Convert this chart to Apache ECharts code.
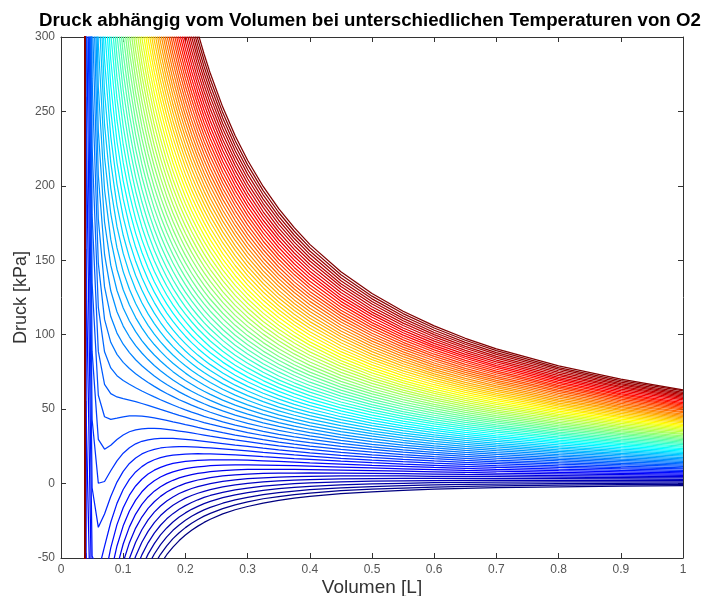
<!DOCTYPE html>
<html>
<head>
<meta charset="utf-8">
<title>Druck abhängig vom Volumen – O2</title>
<script src="https://cdn.jsdelivr.net/npm/echarts@6/dist/echarts.min.js"></script>
<style>
  html, body { margin: 0; padding: 0; background: #fff; }
  #chart { width: 705px; height: 596px; }
</style>
</head>
<body>
<div id="chart"></div>
<script>
// molar volume grid (L) at which the isotherms were read
const volumes = [0.03, 0.04, 0.05, 0.06, 0.07, 0.08, 0.09, 0.10, 0.11, 0.12, 0.13, 0.14, 0.15, 0.16, 0.17, 0.18, 0.19, 0.20, 0.21, 0.22, 0.23, 0.24, 0.26, 0.28, 0.30, 0.325, 0.35, 0.375, 0.40, 0.45, 0.50, 0.55, 0.60, 0.65, 0.70, 0.80, 0.90, 1.00];

// one isotherm per temperature (K), coldest first
const temperatures = [0, 10, 20, 30, 40, 50, 60, 70, 80, 90, 100, 110, 120, 130, 140, 150, 160, 170, 180, 190, 200, 210, 220, 230, 240, 250, 260, 270, 280, 290, 300, 310, 320, 330, 340, 350, 360, 370, 380, 390, 400, 410, 420, 430, 440, 450, 460, 470, 480, 490, 500, 510, 520, 530, 540, 550, 560, 570, 580, 590, 600, 610, 620, 630, 640, 650, 660, 670, 680, 690, 700, 710, 720, 730, 740, 750];

// pressure of every isotherm at one volume (same order as temperatures)
const pAt003 = [-1536, -1983, -2430, -2877, -3324, -3771, -4218, -4665, -5112, -5559, -6006, -6453, -6900, -7347, -7794, -8241, -8688, -9135, -9582, -10029, -10476, -10923, -11370, -11817, -12264, -12711, -13158, -13605, -14052, -14499, -14946, -15393, -15840, -16287, -16734, -17181, -17628, -18075, -18522, -18969, -19416, -19863, -20310, -20757, -21204, -21651, -22098, -22545, -22992, -23439, -23886, -24333, -24780, -25227, -25674, -26121, -26568, -27015, -27462, -27909, -28356, -28803, -29250, -29697, -30144, -30591, -31038, -31485, -31932, -32379, -32826, -33273, -33720, -34167, -34614, -35061];
const pAt004 = [-864, -762, -659, -557, -455, -353, -251, -149, -46.6, 55.5, 157.6, 259.8, 361.9, 464, 566, 668, 770, 873, 975, 1077, 1179, 1281, 1383, 1485, 1588, 1690, 1792, 1894, 1996, 2098, 2200, 2303, 2405, 2507, 2609, 2711, 2813, 2915, 3018, 3120, 3222, 3324, 3426, 3528, 3630, 3732, 3835, 3937, 4039, 4141, 4243, 4345, 4447, 4550, 4652, 4754, 4856, 4958, 5060, 5162, 5265, 5367, 5469, 5571, 5673, 5775, 5877, 5980, 6082, 6184, 6286, 6388, 6490, 6592, 6694, 6797];
const pAt005 = [-552.8, -507, -461.1, -415.3, -369.5, -323.6, -277.8, -232, -186.1, -140.3, -94.5, -48.6, -2.8, 43, 88.8, 134.7, 180.5, 226.3, 272.2, 318, 363.8, 409.7, 455.5, 501.3, 547.2, 593, 638.8, 684.7, 730.5, 776.3, 822, 868, 914, 960, 1006, 1051, 1097, 1143, 1189, 1235, 1280, 1326, 1372, 1418, 1464, 1510, 1555, 1601, 1647, 1693, 1739, 1785, 1830, 1876, 1922, 1968, 2014, 2060, 2105, 2151, 2197, 2243, 2289, 2335, 2380, 2426, 2472, 2518, 2564, 2610, 2655, 2701, 2747, 2793, 2839, 2885];
const pAt006 = [-383.9, -354.3, -324.8, -295.3, -265.7, -236.2, -206.6, -177.1, -147.5, -118, -88.4, -58.9, -29.4, 0.2, 29.7, 59.3, 88.8, 118.4, 147.9, 177.5, 207, 236.6, 266.1, 295.6, 325.2, 354.7, 384.3, 413.8, 443.4, 472.9, 502.5, 532, 561.5, 591.1, 620.6, 650.2, 679.7, 709.3, 738.8, 768.4, 798, 827, 857, 887, 916, 946, 975, 1005, 1034, 1064, 1093, 1123, 1152, 1182, 1212, 1241, 1271, 1300, 1330, 1359, 1389, 1418, 1448, 1477, 1507, 1537, 1566, 1596, 1625, 1655, 1684, 1714, 1743, 1773, 1802, 1832];
const pAt007 = [-282, -260.2, -238.4, -216.6, -194.8, -173, -151.2, -129.4, -107.6, -85.8, -64.1, -42.2, -20.4, 1.4, 23.1, 44.9, 66.7, 88.5, 110.3, 132.1, 153.9, 175.7, 197.5, 219.3, 241.1, 262.9, 284.7, 306.5, 328.3, 350.1, 371.9, 393.7, 415.5, 437.3, 459.1, 480.9, 502.7, 524.5, 546.3, 568.1, 589.9, 611.7, 633.5, 655.3, 677.1, 698.9, 720.7, 742.5, 764.3, 786.1, 807.9, 829.7, 851.5, 873.3, 895.1, 916.9, 938.7, 960.5, 982.3, 1004.1, 1025.9, 1047.7, 1069.5, 1091.3, 1113.1, 1134.9, 1156.7, 1178.5, 1200.3, 1222.1, 1243.9, 1265.7, 1287.5, 1309.3, 1331.1, 1352.9];
const pAt008 = [-215.9, -198.7, -181.4, -164.1, -146.9, -129.6, -112.3, -95.1, -77.8, -60.5, -43.2, -26, -8.7, 8.6, 25.8, 43.1, 60.4, 77.7, 94.9, 112.2, 129.5, 146.7, 164, 181.3, 198.5, 215.8, 233.1, 250.4, 267.6, 284.9, 302.2, 319.4, 336.7, 354, 371.2, 388.5, 405.8, 423.1, 440.3, 457.6, 474.9, 492.1, 509.4, 526.7, 543.9, 561.2, 578.5, 595.8, 613, 630.3, 647.6, 664.8, 682.1, 699.4, 716.6, 733.9, 751.2, 768.5, 785.7, 803, 820.3, 837.5, 854.8, 872.1, 889.3, 906.6, 923.9, 941.2, 958.4, 975.7, 993, 1010.2, 1027.5, 1044.8, 1062, 1079.3];
const pAt009 = [-170.6, -156.3, -142, -127.7, -113.4, -99.1, -84.8, -70.5, -56.2, -41.9, -27.6, -13.3, 1, 15.3, 29.6, 43.9, 58.2, 72.5, 86.8, 101.1, 115.4, 129.7, 144, 158.3, 172.6, 186.9, 201.2, 215.5, 229.8, 244.1, 258.4, 272.7, 287, 301.3, 315.6, 329.9, 344.2, 358.5, 372.8, 387.1, 401.4, 415.7, 430, 444.3, 458.6, 472.9, 487.2, 501.5, 515.8, 530.1, 544.4, 558.7, 573, 587.3, 601.6, 615.9, 630.2, 644.5, 658.8, 673.1, 687.4, 701.7, 716, 730.3, 744.6, 758.9, 773.2, 787.5, 801.8, 816.1, 830.4, 844.7, 859, 873.3, 887.6, 901.9];
const pAt010 = [-138.2, -126, -113.8, -101.6, -89.4, -77.2, -65, -52.8, -40.6, -28.4, -16.2, -4, 8.2, 20.4, 32.6, 44.8, 57, 69.2, 81.4, 93.6, 105.8, 118, 130.2, 142.4, 154.6, 166.8, 179, 191.2, 203.4, 215.6, 227.8, 240, 252.2, 264.4, 276.6, 288.8, 301, 313.2, 325.4, 337.6, 349.8, 362, 374.2, 386.4, 398.6, 410.8, 423, 435.2, 447.4, 459.6, 471.9, 484.1, 496.3, 508.5, 520.7, 532.9, 545.1, 557.3, 569.5, 581.7, 593.9, 606.1, 618.3, 630.5, 642.7, 654.9, 667.1, 679.3, 691.5, 703.7, 715.9, 728.1, 740.3, 752.5, 764.7, 776.9];
const pAt011 = [-114.2, -103.6, -92.9, -82.3, -71.6, -61, -50.4, -39.7, -29.1, -18.4, -7.8, 2.8, 13.5, 24.1, 34.8, 45.4, 56, 66.7, 77.3, 88, 98.6, 109.2, 119.9, 130.5, 141.2, 151.8, 162.4, 173.1, 183.7, 194.4, 205, 215.6, 226.3, 236.9, 247.6, 258.2, 268.8, 279.5, 290.1, 300.8, 311.4, 322, 332.7, 343.3, 354, 364.6, 375.2, 385.9, 396.5, 407.2, 417.8, 428.4, 439.1, 449.7, 460.4, 471, 481.6, 492.3, 502.9, 513.6, 524.2, 534.8, 545.5, 556.1, 566.8, 577.4, 588, 598.7, 609.3, 620, 630.6, 641.2, 651.9, 662.5, 673.2, 683.8];
const pAt012 = [-96, -86.5, -77.1, -67.7, -58.2, -48.8, -39.4, -29.9, -20.5, -11.1, -1.6, 7.8, 17.2, 26.7, 36.1, 45.5, 55, 64.4, 73.8, 83.2, 92.7, 102.1, 111.5, 121, 130.4, 139.8, 149.3, 158.7, 168.1, 177.6, 187, 196.4, 205.9, 215.3, 224.7, 234.2, 243.6, 253, 262.5, 271.9, 281.3, 290.8, 300.2, 309.6, 319.1, 328.5, 337.9, 347.4, 356.8, 366.2, 375.7, 385.1, 394.5, 404, 413.4, 422.8, 432.3, 441.7, 451.1, 460.6, 470, 479.4, 488.9, 498.3, 507.7, 517.2, 526.6, 536, 545.4, 554.9, 564.3, 573.8, 583.2, 592.6, 602, 611.5];
const pAt013 = [-81.8, -73.3, -64.8, -56.4, -47.9, -39.4, -31, -22.5, -14, -5.5, 2.9, 11.4, 19.9, 28.4, 36.8, 45.3, 53.8, 62.2, 70.7, 79.2, 87.7, 96.1, 104.6, 113.1, 121.5, 130, 138.5, 147, 155.4, 163.9, 172.4, 180.8, 189.3, 197.8, 206.3, 214.7, 223.2, 231.7, 240.1, 248.6, 257.1, 265.6, 274, 282.5, 291, 299.4, 307.9, 316.4, 324.9, 333.3, 341.8, 350.3, 358.7, 367.2, 375.7, 384.2, 392.6, 401.1, 409.6, 418.1, 426.5, 435, 443.5, 451.9, 460.4, 468.9, 477.4, 485.8, 494.3, 502.8, 511.2, 519.7, 528.2, 536.7, 545.1, 553.6];
const pAt014 = [-70.5, -62.8, -55.1, -47.4, -39.8, -32.1, -24.4, -16.7, -9, -1.3, 6.4, 14.1, 21.7, 29.4, 37.1, 44.8, 52.5, 60.2, 67.9, 75.6, 83.3, 90.9, 98.6, 106.3, 114, 121.7, 129.4, 137.1, 144.8, 152.5, 160.1, 167.8, 175.5, 183.2, 190.9, 198.6, 206.3, 214, 221.6, 229.3, 237, 244.7, 252.4, 260.1, 267.8, 275.5, 283.1, 290.8, 298.5, 306.2, 313.9, 321.6, 329.3, 337, 344.7, 352.3, 360, 367.7, 375.4, 383.1, 390.8, 398.5, 406.2, 413.9, 421.5, 429.2, 436.9, 444.6, 452.3, 460, 467.7, 475.3, 483, 490.7, 498.4, 506.1];
const pAt015 = [-61.4, -54.4, -47.3, -40.3, -33.3, -26.2, -19.2, -12.2, -5.1, 1.9, 9, 16, 23, 30.1, 37.1, 44.1, 51.2, 58.2, 65.3, 72.3, 79.3, 86.4, 93.4, 100.4, 107.5, 114.5, 121.6, 128.6, 135.6, 142.7, 149.7, 156.7, 163.8, 170.8, 177.8, 184.9, 191.9, 199, 206, 213, 220.1, 227.1, 234.2, 241.2, 248.2, 255.3, 262.3, 269.3, 276.4, 283.4, 290.4, 297.5, 304.5, 311.6, 318.6, 325.6, 332.7, 339.7, 346.7, 353.8, 360.8, 367.9, 374.9, 381.9, 389, 396, 403, 410.1, 417.1, 424.2, 431.2, 438.2, 445.3, 452.3, 459.3, 466.4];
const pAt016 = [-54, -47.5, -41, -34.5, -28, -21.5, -15.1, -8.6, -2.1, 4.4, 10.9, 17.4, 23.9, 30.4, 36.9, 43.3, 49.8, 56.3, 62.8, 69.3, 75.8, 82.3, 88.8, 95.2, 101.7, 108.2, 114.7, 121.2, 127.7, 134.2, 140.7, 147.2, 153.6, 160.1, 166.6, 173.1, 179.6, 186.1, 192.6, 199.1, 205.5, 212, 218.5, 225, 231.5, 238, 244.5, 251, 257.5, 263.9, 270.4, 276.9, 283.4, 289.9, 296.4, 302.9, 309.4, 315.8, 322.3, 328.8, 335.3, 341.8, 348.3, 354.8, 361.3, 367.8, 374.2, 380.7, 387.2, 393.7, 400.2, 406.7, 413.2, 419.7, 426.1, 432.6];
const pAt017 = [-47.8, -41.8, -35.8, -29.8, -23.7, -17.7, -11.7, -5.7, 0.3, 6.3, 12.4, 18.4, 24.4, 30.4, 36.4, 42.5, 48.5, 54.5, 60.5, 66.5, 72.6, 78.6, 84.6, 90.6, 96.6, 102.6, 108.7, 114.7, 120.7, 126.7, 132.7, 138.8, 144.8, 150.8, 156.8, 162.8, 168.8, 174.9, 180.9, 186.9, 192.9, 198.9, 205, 211, 217, 223, 229, 235.1, 241.1, 247.1, 253.1, 259.1, 265.1, 271.2, 277.2, 283.2, 289.2, 295.2, 301.3, 307.3, 313.3, 319.3, 325.3, 331.3, 337.4, 343.4, 349.4, 355.4, 361.4, 367.5, 373.5, 379.5, 385.5, 391.5, 397.5, 403.6];
const pAt018 = [-42.7, -37, -31.4, -25.8, -20.2, -14.6, -9, -3.4, 2.2, 7.9, 13.5, 19.1, 24.7, 30.3, 35.9, 41.5, 47.1, 52.8, 58.4, 64, 69.6, 75.2, 80.8, 86.4, 92, 97.7, 103.3, 108.9, 114.5, 120.1, 125.7, 131.3, 136.9, 142.6, 148.2, 153.8, 159.4, 165, 170.6, 176.2, 181.8, 187.5, 193.1, 198.7, 204.3, 209.9, 215.5, 221.1, 226.7, 232.4, 238, 243.6, 249.2, 254.8, 260.4, 266, 271.6, 277.3, 282.9, 288.5, 294.1, 299.7, 305.3, 310.9, 316.5, 322.1, 327.8, 333.4, 339, 344.6, 350.2, 355.8, 361.4, 367, 372.7, 378.3];
const pAt019 = [-38.3, -33, -27.8, -22.5, -17.3, -12, -6.7, -1.5, 3.8, 9, 14.3, 19.5, 24.8, 30.1, 35.3, 40.6, 45.8, 51.1, 56.3, 61.6, 66.9, 72.1, 77.4, 82.6, 87.9, 93.2, 98.4, 103.7, 108.9, 114.2, 119.4, 124.7, 130, 135.2, 140.5, 145.7, 151, 156.2, 161.5, 166.8, 172, 177.3, 182.5, 187.8, 193, 198.3, 203.6, 208.8, 214.1, 219.3, 224.6, 229.8, 235.1, 240.4, 245.6, 250.9, 256.1, 261.4, 266.6, 271.9, 277.2, 282.4, 287.7, 292.9, 298.2, 303.4, 308.7, 314, 319.2, 324.5, 329.7, 335, 340.3, 345.5, 350.8, 356];
const pAt020 = [-34.6, -29.6, -24.7, -19.7, -14.8, -9.8, -4.9, 0.1, 5, 10, 14.9, 19.8, 24.8, 29.7, 34.7, 39.6, 44.6, 49.5, 54.5, 59.4, 64.3, 69.3, 74.2, 79.2, 84.1, 89.1, 94, 99, 103.9, 108.9, 113.8, 118.7, 123.7, 128.6, 133.6, 138.5, 143.5, 148.4, 153.3, 158.3, 163.2, 168.2, 173.1, 178.1, 183, 188, 192.9, 197.9, 202.8, 207.7, 212.7, 217.6, 222.6, 227.5, 232.5, 237.4, 242.4, 247.3, 252.2, 257.2, 262.1, 267.1, 272, 277, 281.9, 286.9, 291.8, 296.7, 301.7, 306.6, 311.6, 316.5, 321.5, 326.4, 331.4, 336.3];
const pAt021 = [-31.3, -26.7, -22, -17.3, -12.7, -8, -3.3, 1.3, 6, 10.7, 15.3, 20, 24.7, 29.3, 34, 38.7, 43.3, 48, 52.7, 57.3, 62, 66.7, 71.3, 76, 80.7, 85.3, 90, 94.7, 99.3, 104, 108.7, 113.3, 118, 122.7, 127.3, 132, 136.7, 141.3, 146, 150.7, 155.3, 160, 164.7, 169.3, 174, 178.7, 183.3, 188, 192.7, 197.3, 202, 206.7, 211.3, 216, 220.7, 225.4, 230, 234.7, 239.4, 244, 248.7, 253.4, 258, 262.7, 267.4, 272, 276.7, 281.4, 286, 290.7, 295.4, 300, 304.7, 309.4, 314, 318.7];
const pAt022 = [-28.6, -24.1, -19.7, -15.3, -10.9, -6.5, -2, 2.4, 6.8, 11.2, 15.6, 20.1, 24.5, 28.9, 33.3, 37.7, 42.2, 46.6, 51, 55.4, 59.8, 64.2, 68.7, 73.1, 77.5, 81.9, 86.3, 90.8, 95.2, 99.6, 104, 108.4, 112.9, 117.3, 121.7, 126.1, 130.5, 135, 139.4, 143.8, 148.2, 152.6, 157, 161.5, 165.9, 170.3, 174.7, 179.1, 183.6, 188, 192.4, 196.8, 201.2, 205.7, 210.1, 214.5, 218.9, 223.3, 227.7, 232.2, 236.6, 241, 245.4, 249.8, 254.3, 258.7, 263.1, 267.5, 271.9, 276.4, 280.8, 285.2, 289.6, 294, 298.5, 302.9];
const pAt023 = [-26.1, -21.9, -17.7, -13.5, -9.3, -5.2, -1, 3.2, 7.4, 11.6, 15.8, 20, 24.2, 28.4, 32.6, 36.8, 41, 45.2, 49.4, 53.6, 57.8, 62, 66.2, 70.4, 74.6, 78.8, 83, 87.2, 91.4, 95.6, 99.8, 103.9, 108.1, 112.3, 116.5, 120.7, 124.9, 129.1, 133.3, 137.5, 141.7, 145.9, 150.1, 154.3, 158.5, 162.7, 166.9, 171.1, 175.3, 179.5, 183.7, 187.9, 192.1, 196.3, 200.5, 204.7, 208.8, 213, 217.2, 221.4, 225.6, 229.8, 234, 238.2, 242.4, 246.6, 250.8, 255, 259.2, 263.4, 267.6, 271.8, 276, 280.2, 284.4, 288.6];
const pAt024 = [-24, -20, -16, -12, -8, -4, 0, 4, 8, 12, 16, 19.9, 23.9, 27.9, 31.9, 35.9, 39.9, 43.9, 47.9, 51.9, 55.9, 59.9, 63.9, 67.9, 71.9, 75.9, 79.9, 83.9, 87.9, 91.8, 95.8, 99.8, 103.8, 107.8, 111.8, 115.8, 119.8, 123.8, 127.8, 131.8, 135.8, 139.8, 143.8, 147.8, 151.8, 155.8, 159.7, 163.7, 167.7, 171.7, 175.7, 179.7, 183.7, 187.7, 191.7, 195.7, 199.7, 203.7, 207.7, 211.7, 215.7, 219.7, 223.7, 227.7, 231.6, 235.6, 239.6, 243.6, 247.6, 251.6, 255.6, 259.6, 263.6, 267.6, 271.6, 275.6];
const pAt026 = [-20.4, -16.8, -13.2, -9.5, -5.9, -2.2, 1.4, 5.1, 8.7, 12.4, 16, 19.6, 23.3, 26.9, 30.6, 34.2, 37.9, 41.5, 45.2, 48.8, 52.4, 56.1, 59.7, 63.4, 67, 70.7, 74.3, 78, 81.6, 85.2, 88.9, 92.5, 96.2, 99.8, 103.5, 107.1, 110.8, 114.4, 118, 121.7, 125.3, 129, 132.6, 136.3, 139.9, 143.6, 147.2, 150.8, 154.5, 158.1, 161.8, 165.4, 169.1, 172.7, 176.3, 180, 183.6, 187.3, 190.9, 194.6, 198.2, 201.9, 205.5, 209.1, 212.8, 216.4, 220.1, 223.7, 227.4, 231, 234.7, 238.3, 241.9, 245.6, 249.2, 252.9];
const pAt028 = [-17.6, -14.3, -10.9, -7.6, -4.2, -0.9, 2.5, 5.8, 9.2, 12.5, 15.9, 19.2, 22.6, 25.9, 29.3, 32.6, 36, 39.3, 42.7, 46, 49.4, 52.7, 56.1, 59.4, 62.8, 66.1, 69.5, 72.8, 76.2, 79.5, 82.9, 86.2, 89.6, 92.9, 96.3, 99.6, 103, 106.3, 109.7, 113, 116.4, 119.7, 123.1, 126.4, 129.8, 133.1, 136.5, 139.8, 143.2, 146.5, 149.9, 153.2, 156.6, 159.9, 163.3, 166.7, 170, 173.4, 176.7, 180.1, 183.4, 186.8, 190.1, 193.5, 196.8, 200.2, 203.5, 206.9, 210.2, 213.6, 216.9, 220.3, 223.6, 227, 230.3, 233.7];
const pAt030 = [-15.4, -12.3, -9.2, -6.1, -3, 0.2, 3.3, 6.4, 9.5, 12.6, 15.7, 18.8, 21.9, 25, 28.1, 31.2, 34.3, 37.4, 40.5, 43.6, 46.7, 49.8, 52.9, 56, 59.1, 62.2, 65.3, 68.4, 71.5, 74.6, 77.7, 80.8, 83.9, 87, 90.1, 93.2, 96.3, 99.4, 102.5, 105.6, 108.7, 111.8, 114.9, 118, 121.1, 124.2, 127.3, 130.4, 133.5, 136.6, 139.7, 142.8, 145.9, 149, 152.1, 155.2, 158.3, 161.4, 164.5, 167.6, 170.7, 173.8, 176.9, 180, 183.1, 186.2, 189.3, 192.4, 195.5, 198.6, 201.7, 204.8, 207.9, 211, 214.1, 217.2];
const pAt0325 = [-13.1, -10.2, -7.4, -4.6, -1.7, 1.1, 3.9, 6.8, 9.6, 12.4, 15.3, 18.1, 20.9, 23.8, 26.6, 29.5, 32.3, 35.1, 38, 40.8, 43.6, 46.5, 49.3, 52.1, 55, 57.8, 60.7, 63.5, 66.3, 69.2, 72, 74.8, 77.7, 80.5, 83.3, 86.2, 89, 91.9, 94.7, 97.5, 100.4, 103.2, 106, 108.9, 111.7, 114.5, 117.4, 120.2, 123.1, 125.9, 128.7, 131.6, 134.4, 137.2, 140.1, 142.9, 145.8, 148.6, 151.4, 154.3, 157.1, 159.9, 162.8, 165.6, 168.4, 171.3, 174.1, 176.9, 179.8, 182.6, 185.5, 188.3, 191.1, 194, 196.8, 199.6];
const pAt035 = [-11.3, -8.7, -6.1, -3.4, -0.8, 1.8, 4.4, 7, 9.6, 12.2, 14.9, 17.5, 20.1, 22.7, 25.3, 27.9, 30.5, 33.1, 35.8, 38.4, 41, 43.6, 46.2, 48.8, 51.4, 54.1, 56.7, 59.3, 61.9, 64.5, 67.1, 69.7, 72.3, 75, 77.6, 80.2, 82.8, 85.4, 88, 90.6, 93.3, 95.9, 98.5, 101.1, 103.7, 106.3, 108.9, 111.5, 114.2, 116.8, 119.4, 122, 124.6, 127.2, 129.8, 132.5, 135.1, 137.7, 140.3, 142.9, 145.5, 148.1, 150.7, 153.4, 156, 158.6, 161.2, 163.8, 166.4, 169, 171.6, 174.3, 176.9, 179.5, 182.1, 184.7];
const pAt0375 = [-9.8, -7.4, -5, -2.6, -0.1, 2.3, 4.7, 7.1, 9.6, 12, 14.4, 16.8, 19.2, 21.7, 24.1, 26.5, 28.9, 31.4, 33.8, 36.2, 38.6, 41.1, 43.5, 45.9, 48.3, 50.7, 53.2, 55.6, 58, 60.4, 62.9, 65.3, 67.7, 70.1, 72.6, 75, 77.4, 79.8, 82.2, 84.7, 87.1, 89.5, 91.9, 94.4, 96.8, 99.2, 101.6, 104.1, 106.5, 108.9, 111.3, 113.7, 116.2, 118.6, 121, 123.4, 125.9, 128.3, 130.7, 133.1, 135.5, 138, 140.4, 142.8, 145.2, 147.7, 150.1, 152.5, 154.9, 157.3, 159.8, 162.2, 164.6, 167, 169.5, 171.9];
const pAt040 = [-8.6, -6.4, -4.1, -1.9, 0.4, 2.7, 4.9, 7.2, 9.4, 11.7, 13.9, 16.2, 18.5, 20.7, 23, 25.2, 27.5, 29.8, 32, 34.3, 36.5, 38.8, 41, 43.3, 45.6, 47.8, 50.1, 52.3, 54.6, 56.9, 59.1, 61.4, 63.6, 65.9, 68.1, 70.4, 72.7, 74.9, 77.2, 79.4, 81.7, 84, 86.2, 88.5, 90.7, 93, 95.2, 97.5, 99.8, 102, 104.3, 106.5, 108.8, 111.1, 113.3, 115.6, 117.8, 120.1, 122.4, 124.6, 126.9, 129.1, 131.4, 133.6, 135.9, 138.2, 140.4, 142.7, 144.9, 147.2, 149.5, 151.7, 154, 156.2, 158.5, 160.7];
const pAt045 = [-6.8, -4.8, -2.9, -0.9, 1.1, 3.1, 5.1, 7.1, 9.1, 11.1, 13.1, 15, 17, 19, 21, 23, 25, 27, 29, 31, 32.9, 34.9, 36.9, 38.9, 40.9, 42.9, 44.9, 46.9, 48.9, 50.8, 52.8, 54.8, 56.8, 58.8, 60.8, 62.8, 64.8, 66.7, 68.7, 70.7, 72.7, 74.7, 76.7, 78.7, 80.7, 82.6, 84.6, 86.6, 88.6, 90.6, 92.6, 94.6, 96.6, 98.6, 100.5, 102.5, 104.5, 106.5, 108.5, 110.5, 112.5, 114.5, 116.4, 118.4, 120.4, 122.4, 124.4, 126.4, 128.4, 130.4, 132.4, 134.3, 136.3, 138.3, 140.3, 142.3];
const pAt050 = [-5.5, -3.8, -2, -0.2, 1.6, 3.4, 5.1, 6.9, 8.7, 10.5, 12.2, 14, 15.8, 17.6, 19.3, 21.1, 22.9, 24.7, 26.4, 28.2, 30, 31.8, 33.5, 35.3, 37.1, 38.9, 40.6, 42.4, 44.2, 46, 47.8, 49.5, 51.3, 53.1, 54.9, 56.6, 58.4, 60.2, 62, 63.7, 65.5, 67.3, 69.1, 70.8, 72.6, 74.4, 76.2, 77.9, 79.7, 81.5, 83.3, 85, 86.8, 88.6, 90.4, 92.2, 93.9, 95.7, 97.5, 99.3, 101, 102.8, 104.6, 106.4, 108.1, 109.9, 111.7, 113.5, 115.2, 117, 118.8, 120.6, 122.3, 124.1, 125.9, 127.7];
const pAt055 = [-4.6, -3, -1.4, 0.2, 1.8, 3.5, 5.1, 6.7, 8.3, 9.9, 11.5, 13.1, 14.7, 16.3, 17.9, 19.5, 21.1, 22.7, 24.3, 25.9, 27.5, 29.1, 30.7, 32.3, 33.9, 35.5, 37.2, 38.8, 40.4, 42, 43.6, 45.2, 46.8, 48.4, 50, 51.6, 53.2, 54.8, 56.4, 58, 59.6, 61.2, 62.8, 64.4, 66, 67.6, 69.2, 70.8, 72.5, 74.1, 75.7, 77.3, 78.9, 80.5, 82.1, 83.7, 85.3, 86.9, 88.5, 90.1, 91.7, 93.3, 94.9, 96.5, 98.1, 99.7, 101.3, 102.9, 104.5, 106.2, 107.8, 109.4, 111, 112.6, 114.2, 115.8];
const pAt060 = [-3.8, -2.4, -0.9, 0.6, 2, 3.5, 4.9, 6.4, 7.9, 9.3, 10.8, 12.3, 13.7, 15.2, 16.7, 18.1, 19.6, 21, 22.5, 24, 25.4, 26.9, 28.4, 29.8, 31.3, 32.7, 34.2, 35.7, 37.1, 38.6, 40.1, 41.5, 43, 44.5, 45.9, 47.4, 48.8, 50.3, 51.8, 53.2, 54.7, 56.2, 57.6, 59.1, 60.6, 62, 63.5, 64.9, 66.4, 67.9, 69.3, 70.8, 72.3, 73.7, 75.2, 76.6, 78.1, 79.6, 81, 82.5, 84, 85.4, 86.9, 88.4, 89.8, 91.3, 92.7, 94.2, 95.7, 97.1, 98.6, 100.1, 101.5, 103, 104.5, 105.9];
const pAt065 = [-3.3, -1.9, -0.6, 0.8, 2.1, 3.5, 4.8, 6.1, 7.5, 8.8, 10.2, 11.5, 12.9, 14.2, 15.6, 16.9, 18.2, 19.6, 20.9, 22.3, 23.6, 25, 26.3, 27.7, 29, 30.4, 31.7, 33, 34.4, 35.7, 37.1, 38.4, 39.8, 41.1, 42.5, 43.8, 45.2, 46.5, 47.8, 49.2, 50.5, 51.9, 53.2, 54.6, 55.9, 57.3, 58.6, 59.9, 61.3, 62.6, 64, 65.3, 66.7, 68, 69.4, 70.7, 72.1, 73.4, 74.7, 76.1, 77.4, 78.8, 80.1, 81.5, 82.8, 84.2, 85.5, 86.8, 88.2, 89.5, 90.9, 92.2, 93.6, 94.9, 96.3, 97.6];
const pAt070 = [-2.8, -1.6, -0.3, 0.9, 2.2, 3.4, 4.6, 5.9, 7.1, 8.4, 9.6, 10.9, 12.1, 13.4, 14.6, 15.8, 17.1, 18.3, 19.6, 20.8, 22.1, 23.3, 24.6, 25.8, 27, 28.3, 29.5, 30.8, 32, 33.3, 34.5, 35.8, 37, 38.2, 39.5, 40.7, 42, 43.2, 44.5, 45.7, 47, 48.2, 49.4, 50.7, 51.9, 53.2, 54.4, 55.7, 56.9, 58.2, 59.4, 60.6, 61.9, 63.1, 64.4, 65.6, 66.9, 68.1, 69.3, 70.6, 71.8, 73.1, 74.3, 75.6, 76.8, 78.1, 79.3, 80.5, 81.8, 83, 84.3, 85.5, 86.8, 88, 89.3, 90.5];
const pAt080 = [-2.2, -1.1, 0, 1.1, 2.2, 3.3, 4.3, 5.4, 6.5, 7.6, 8.7, 9.7, 10.8, 11.9, 13, 14.1, 15.2, 16.2, 17.3, 18.4, 19.5, 20.6, 21.7, 22.7, 23.8, 24.9, 26, 27.1, 28.1, 29.2, 30.3, 31.4, 32.5, 33.6, 34.6, 35.7, 36.8, 37.9, 39, 40.1, 41.1, 42.2, 43.3, 44.4, 45.5, 46.5, 47.6, 48.7, 49.8, 50.9, 52, 53, 54.1, 55.2, 56.3, 57.4, 58.5, 59.5, 60.6, 61.7, 62.8, 63.9, 64.9, 66, 67.1, 68.2, 69.3, 70.4, 71.4, 72.5, 73.6, 74.7, 75.8, 76.9, 77.9, 79];
const pAt090 = [-1.7, -0.7, 0.2, 1.2, 2.1, 3.1, 4, 5, 6, 6.9, 7.9, 8.8, 9.8, 10.7, 11.7, 12.7, 13.6, 14.6, 15.5, 16.5, 17.4, 18.4, 19.4, 20.3, 21.3, 22.2, 23.2, 24.2, 25.1, 26.1, 27, 28, 28.9, 29.9, 30.9, 31.8, 32.8, 33.7, 34.7, 35.6, 36.6, 37.6, 38.5, 39.5, 40.4, 41.4, 42.3, 43.3, 44.3, 45.2, 46.2, 47.1, 48.1, 49.1, 50, 51, 51.9, 52.9, 53.8, 54.8, 55.8, 56.7, 57.7, 58.6, 59.6, 60.5, 61.5, 62.5, 63.4, 64.4, 65.3, 66.3, 67.2, 68.2, 69.2, 70.1];
const pAt100 = [-1.4, -0.5, 0.3, 1.2, 2.1, 2.9, 3.8, 4.6, 5.5, 6.3, 7.2, 8.1, 8.9, 9.8, 10.6, 11.5, 12.4, 13.2, 14.1, 14.9, 15.8, 16.6, 17.5, 18.4, 19.2, 20.1, 20.9, 21.8, 22.7, 23.5, 24.4, 25.2, 26.1, 27, 27.8, 28.7, 29.5, 30.4, 31.2, 32.1, 33, 33.8, 34.7, 35.5, 36.4, 37.3, 38.1, 39, 39.8, 40.7, 41.6, 42.4, 43.3, 44.1, 45, 45.8, 46.7, 47.6, 48.4, 49.3, 50.1, 51, 51.9, 52.7, 53.6, 54.4, 55.3, 56.2, 57, 57.9, 58.7, 59.6, 60.4, 61.3, 62.2, 63];

const columns = [pAt003, pAt004, pAt005, pAt006, pAt007, pAt008, pAt009, pAt010, pAt011, pAt012, pAt013, pAt014, pAt015, pAt016, pAt017, pAt018, pAt019, pAt020, pAt021, pAt022, pAt023, pAt024, pAt026, pAt028, pAt030, pAt0325, pAt035, pAt0375, pAt040, pAt045, pAt050, pAt055, pAt060, pAt065, pAt070, pAt080, pAt090, pAt100];

// matlab "jet" colormap
function jet(t) {
  const c = (v) => Math.round(255 * Math.max(0, Math.min(1, v)));
  const r = c(1.5 - Math.abs(4 * t - 3));
  const g = c(1.5 - Math.abs(4 * t - 2));
  const b = c(1.5 - Math.abs(4 * t - 1));
  return 'rgb(' + r + ',' + g + ',' + b + ')';
}

const FONT = 'Liberation Sans, Arial, Helvetica, sans-serif';
const AXIS = '#333';

const series = temperatures.map((t, k) => ({
  name: t + ' K',
  type: 'line',
  xAxisIndex: 0,
  yAxisIndex: 0,
  showSymbol: false,
  silent: true,
  clip: true,
  lineStyle: { width: 1.25, color: jet(k / (temperatures.length - 1)) },
  data: volumes.map((v, j) => [v, columns[j][k]]),
}));

const tickStyle = { inside: true, length: 5, lineStyle: { color: AXIS } };

const chart = echarts.init(document.getElementById('chart'));
chart.setOption({
  animation: false,
  backgroundColor: '#fff',
  title: {
    text: 'Druck abhängig vom Volumen bei unterschiedlichen Temperaturen von O2',
    left: 365,
    top: 6,
    textAlign: 'center',
    textStyle: { fontFamily: FONT, fontSize: 18.7, fontWeight: 'bold', color: '#000' },
  },
  grid: { left: 61, right: 22, top: 37, bottom: 38, containLabel: false, outerBoundsMode: 'none' },
  xAxis: [
    {
      type: 'value', position: 'bottom', min: 0, max: 1, interval: 0.1,
      name: 'Volumen [L]', nameLocation: 'middle', nameGap: 20, nameMoveOverlap: false,
      nameTextStyle: { fontFamily: FONT, fontSize: 19, color: '#333' },
      axisLine: { onZero: false, lineStyle: { color: AXIS } },
      axisTick: tickStyle,
      axisLabel: { fontFamily: FONT, fontSize: 12, color: '#555', margin: 6 },
      splitLine: { show: false },
    },
    {
      type: 'value', position: 'top', min: 0, max: 1, interval: 0.1,
      axisLine: { onZero: false, lineStyle: { color: AXIS } },
      axisTick: tickStyle,
      axisLabel: { show: false },
      splitLine: { show: false },
    },
  ],
  yAxis: [
    {
      type: 'value', position: 'left', min: -50, max: 300, interval: 50,
      name: 'Druck [kPa]', nameLocation: 'middle', nameGap: 31, nameRotate: 90, nameMoveOverlap: false,
      nameTextStyle: { fontFamily: FONT, fontSize: 18, color: '#333' },
      axisLine: { show: true, onZero: false, lineStyle: { color: AXIS } },
      axisTick: tickStyle,
      axisLabel: { fontFamily: FONT, fontSize: 12, color: '#555', margin: 6 },
      splitLine: { show: false },
    },
    {
      type: 'value', position: 'right', min: -50, max: 300, interval: 50,
      axisLine: { show: true, onZero: false, lineStyle: { color: AXIS } },
      axisTick: tickStyle,
      axisLabel: { show: false },
      splitLine: { show: false },
    },
  ],
  series: series,
});
</script>
</body>
</html>
